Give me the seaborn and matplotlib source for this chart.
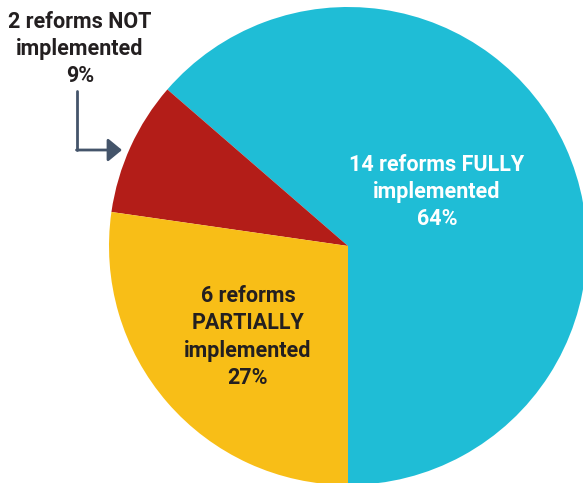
import numpy as np
import seaborn as sns
import matplotlib.pyplot as plt

# data
labels = ['14 reforms FULLY\nimplemented\n64%',
          '2 reforms NOT\nimplemented\n9%',
          '6 reforms\nPARTIALLY\nimplemented\n27%']
counts = [14, 2, 6]
colors = ['#1FBDD6', '#B31D18', '#F8BE17']

sns.set_style('white')
plt.rcParams['font.family'] = ['Roboto', 'DejaVu Sans']

W, H = 583, 483
fig = plt.figure(figsize=(W / 100, H / 100), dpi=100)
ax = fig.add_axes([0, 0, 1, 1])

# pie center / radius in pixels (from top-left)
cx, cy, r = 348, 246, 239
ax.pie(counts, colors=colors, startangle=-90, counterclock=True,
       radius=1, center=(0, 0), wedgeprops=dict(linewidth=0))
ax.set_xlim(-cx / r, (W - cx) / r)
ax.set_ylim(-(H - cy) / r, cy / r)
ax.set_aspect('equal')
ax.axis('off')

def px(x, y):
    # pixel (from top-left) -> figure fraction
    return x / W, 1 - y / H

fs = 15.5
ls = 1.3
fig.text(*px(437, 192), labels[0], ha='center', va='center', color='white',
         fontsize=fs, fontweight='bold', linespacing=ls)
fig.text(*px(248, 337), labels[2], ha='center', va='center', color='#231F20',
         fontsize=fs, fontweight='bold', linespacing=ls)
fig.text(*px(80, 49), labels[1], ha='center', va='center', color='#231F20',
         fontsize=fs, fontweight='bold', linespacing=ls)

# elbow arrow pointing at the small slice
arrow_col = '#44546A'
x0, y0 = px(77, 91)
x1, y1 = px(77, 150)
x2, y2 = px(122, 150)
fig.add_artist(plt.Line2D([x0, x1], [y0, y1], color=arrow_col, lw=2,
                          transform=fig.transFigure))
ax.annotate('', xy=(x2, y2), xytext=(x1 - 0.5 / W, y1),
            xycoords='figure fraction', textcoords='figure fraction',
            arrowprops=dict(arrowstyle='-|>,head_length=0.85,head_width=0.7',
                            color=arrow_col, lw=2, shrinkA=0, shrinkB=0))

plt.savefig('out.png', dpi=100)
